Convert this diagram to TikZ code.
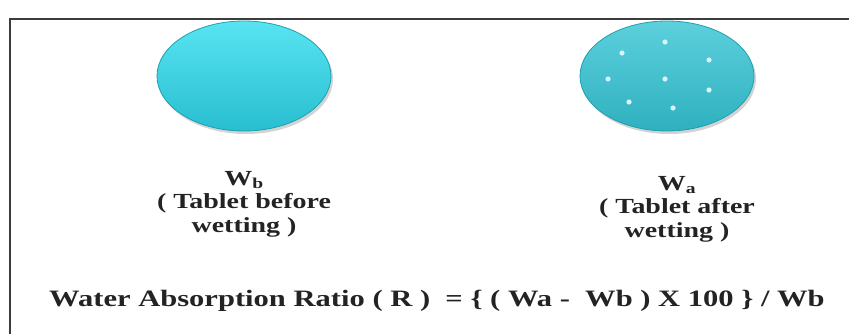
\documentclass[tikz,border=0pt]{standalone}
\usepackage{fontspec}
\setmainfont{Liberation Serif}
\newfontfamily\wideserif[FakeStretch=1.3]{Liberation Serif}
\usetikzlibrary{shapes.geometric,shadows}
\definecolor{tabtop}{RGB}{88,228,242}
\definecolor{tabbot}{RGB}{40,190,208}
\definecolor{tabedge}{RGB}{30,160,175}
\definecolor{wettab}{RGB}{52,196,212}
\definecolor{framegray}{RGB}{60,60,60}
\definecolor{inkblack}{RGB}{35,35,35}

\tikzset{
  tablet/.style={ellipse, minimum width=174pt, minimum height=110pt, draw=tabedge, line width=0.8pt,
    top color=tabtop, bottom color=tabbot, drop shadow={shadow xshift=2pt, shadow yshift=-3pt, opacity=0.35}},
  label/.style={align=center, font=\wideserif\bfseries\fontsize{21.5}{23.5}\selectfont, text=inkblack},
}

\begin{document}
\begin{tikzpicture}[x=1pt,y=-1pt]
\useasboundingbox (0,0) rectangle (849,333); %Page size
\clip (0,0) rectangle (849,333); %Frame runs off the page
\draw[framegray, line width=2.5pt] (10,19) rectangle (870,360); %Border
\node[tablet] (wb) at (244,76) {}; %Dry tablet
\node[tablet, top color=wettab!80!white, bottom color=wettab!90!black] (wa) at (667,76) {}; %Wet tablet
\foreach \px/\py in {665/42, 622/53, 709/60, 608/79, 665/79, 709/90, 629/102, 673/108}
  \fill[white!85!cyan] (\px,\py) circle (2.6pt); %Water spots
\node[label] (wblabel) at (244,204) {W\textsubscript{b}\\( Tablet before\\wetting )};
\node[label] (walabel) at (677,209) {W\textsubscript{a}\\( Tablet after\\wetting )};
\node[font=\wideserif\bfseries\fontsize{23.5}{26}\selectfont, text=inkblack] (ratio) at (437,301)
  {Water Absorption Ratio ( R )\ \ = \{ ( Wa -\ \ Wb ) X 100 \} / Wb};
\end{tikzpicture}
\end{document}
